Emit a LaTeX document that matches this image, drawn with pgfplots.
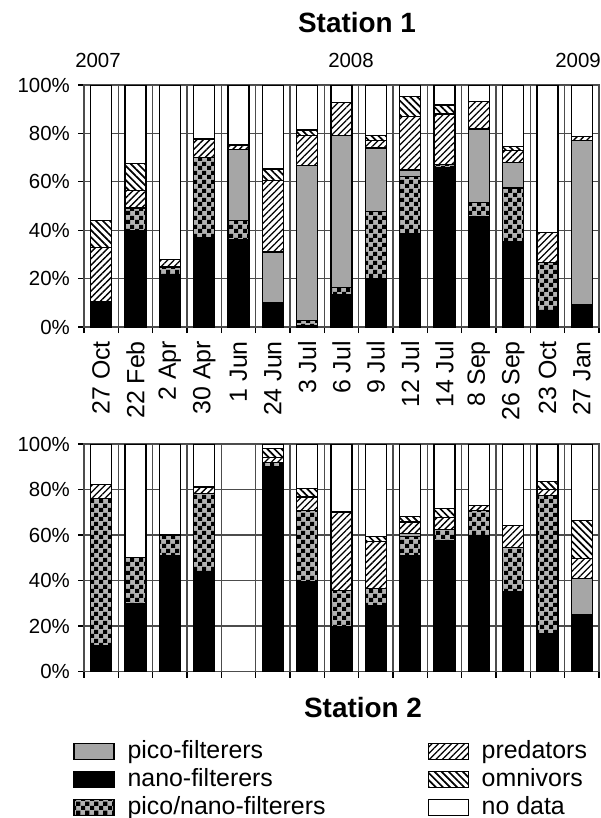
\documentclass[border=0pt]{standalone}
\usepackage{pgfplots}
\pgfplotsset{compat=1.18}
\usepackage{pgfplotstable}
\usepackage{fontspec}
\setmainfont{Liberation Sans}
\usetikzlibrary{patterns,patterns.meta}

\tikzdeclarepattern{
  name=mycheck,
  type=uncolored,
  bounding box={(0,0) and (9bp,9bp)},
  tile size={(9bp,9bp)},
  code={
    \fill (0,0) rectangle (4.5bp,4.5bp);
    \fill (4.5bp,4.5bp) rectangle (9bp,9bp);
  }
}
\newcommand\xl[1]{\fontsize{25}{28}\selectfont #1}

% columns: nano, pico/nano, pico, predators, omnivors, no data
\pgfplotstableread{
x nano pn pico pred omni nodata
1 10.7 0 0 22 11.3 56
2 39.9 9.3 0 7.2 11 32.6
3 21.7 3.1 0 3.0 0 72.2
4 37.1 33.1 0 7.5 0 22.3
5 36 8 29.2 2 0 24.8
6 9.9 0 21.1 29.5 4.8 34.7
7 0.5 2.2 64 12.3 2.4 18.6
8 13.3 2.9 62.9 13.7 0 7.2
9 20.2 27.5 26.3 3 2 21
10 38.8 23.4 2.7 22 8.4 4.7
11 66 1.1 0 20.9 3.7 8.3
12 45.8 5.8 30.2 11.5 0 6.7
13 35.1 22.3 10.7 4.8 1.7 25.4
14 6.9 19.6 0 12.7 0 60.8
15 9.2 0 67.8 1.7 0 21.3
}\stationone

\pgfplotstableread{
x nano pn pico pred omni nodata
1 11.6 64.4 0 6.2 0 17.8
2 29.9 20.1 0 0 0 50
3 51 9 0 0 0 40
4 43.8 34.4 0 2.9 0 18.9
5 0 0 0 0 0 0
6 89.9 2.1 0 2 4 2
7 39.4 31.5 0 5.8 3.7 19.6
8 19.6 16.1 0 34.4 0 29.9
9 29.1 7.4 0 20.5 2.4 40.6
10 51.1 8.1 1.4 5.1 2.5 31.8
11 57.7 4.7 0 5.2 4 28.4
12 59.9 11 0 2.1 0 27
13 35 19.5 0 9.8 0 35.7
14 16.7 60.8 0 2.5 3.6 16.4
15 25.2 0 15.6 8.8 16.9 33.5
}\stationtwo

\pgfplotsset{
  barbase/.style={draw=black, line width=1.2bp},
  sNano/.style={barbase, fill=black},
  sPN/.style={barbase, preaction={fill=black!30}, pattern=mycheck, pattern color=black},
  sPico/.style={barbase, fill=black!35},
  sPred/.style={barbase, preaction={fill=white}, pattern={Lines[angle=45,distance=4.6bp,line width=1.3bp]}, pattern color=black},
  sOmni/.style={barbase, preaction={fill=white}, pattern={Lines[angle=-45,distance=5bp,line width=1.7bp]}, pattern color=black},
  sNone/.style={barbase, fill=white},
  boxlegend/.style={legend image code/.code={\draw[##1] (0bp,-8bp) rectangle (40bp,8bp);}},
  common/.style={
    scale only axis, width=515bp,
    ybar stacked, bar width=21bp,
    xmin=0.5, xmax=15.5, ymin=0, ymax=100,
    xtick={0.5,1.5,...,15.5}, xticklabels={},
    ytick={0,20,40,60,80,100},
    yticklabels={0\%,20\%,40\%,60\%,80\%,100\%},
    xmajorgrids, ymajorgrids,
    xtick pos=bottom, ytick pos=left,
    tick align=outside, major tick length=6bp,
    tick style={black, line width=1.2bp},
    grid style={black!70, line width=1.2bp},
    axis line style={black!70, line width=1.2bp},
    yticklabel style={font=\fontsize{20.5}{24}\selectfont, inner sep=0pt, xshift=-8bp},
  },
}

\begin{document}
\begin{tikzpicture}
\path[use as bounding box] (0,0) rectangle (601bp,-818bp);

\node[font=\bfseries\fontsize{28}{32}\selectfont] at (357bp,-23bp) {Station 1};
\node[font=\fontsize{20.5}{24}\selectfont] at (98bp,-60bp) {2007};
\node[font=\fontsize{20.5}{24}\selectfont] at (351bp,-60bp) {2008};
\node[font=\fontsize{20.5}{24}\selectfont] at (578bp,-60bp) {2009};

\begin{axis}[common, height=242bp, at={(84bp,-327bp)}, anchor=south west,
  extra x ticks={1,2,...,15},
  extra x tick labels={\xl{27 Oct},\xl{22 Feb},\xl{2 Apr},\xl{30 Apr},\xl{1 Jun},\xl{24 Jun},\xl{3 Jul},\xl{6 Jul},\xl{9 Jul},\xl{12 Jul},\xl{14 Jul},\xl{8 Sep},\xl{26 Sep},\xl{23 Oct},\xl{27 Jan}},
  extra x tick style={major tick length=0pt, grid=none,
    xticklabel style={rotate=90, anchor=east, inner sep=0pt, xshift=-14bp}},
]
\addplot[sNano] table[x=x,y=nano]{\stationone};
\addplot[sPN] table[x=x,y=pn]{\stationone};
\addplot[sPico] table[x=x,y=pico]{\stationone};
\addplot[sPred] table[x=x,y=pred]{\stationone};
\addplot[sOmni] table[x=x,y=omni]{\stationone};
\addplot[sNone] table[x=x,y=nodata]{\stationone};
\end{axis}

\begin{axis}[common, height=227.5bp, at={(84bp,-671.5bp)}, anchor=south west,
  legend columns=2, legend cell align=left,
  legend style={at={(-0.021,-0.297)}, anchor=north west, draw=none, fill=none,
    inner sep=0pt, font=\fontsize{25}{28}\selectfont, row sep=3bp,
    /tikz/every odd column/.append style={column sep=12bp},
    /tikz/every even column/.append style={column sep=101bp},
    nodes={inner sep=1bp, text height=18bp, text depth=5bp}},
]
\addlegendimage{boxlegend, sPico}
\addlegendentry{pico-filterers}
\addlegendimage{boxlegend, sPred}
\addlegendentry{predators}
\addlegendimage{boxlegend, sNano}
\addlegendentry{nano-filterers}
\addlegendimage{boxlegend, sOmni}
\addlegendentry{omnivors}
\addlegendimage{boxlegend, sPN}
\addlegendentry{pico/nano-filterers}
\addlegendimage{boxlegend, sNone}
\addlegendentry{no data}
\addplot[sNano] table[x=x,y=nano]{\stationtwo};
\addplot[sPN] table[x=x,y=pn]{\stationtwo};
\addplot[sPico] table[x=x,y=pico]{\stationtwo};
\addplot[sPred] table[x=x,y=pred]{\stationtwo};
\addplot[sOmni] table[x=x,y=omni]{\stationtwo};
\addplot[sNone] table[x=x,y=nodata]{\stationtwo};
\end{axis}

\node[font=\bfseries\fontsize{28}{32}\selectfont] at (363bp,-708bp) {Station 2};
\end{tikzpicture}
\end{document}
